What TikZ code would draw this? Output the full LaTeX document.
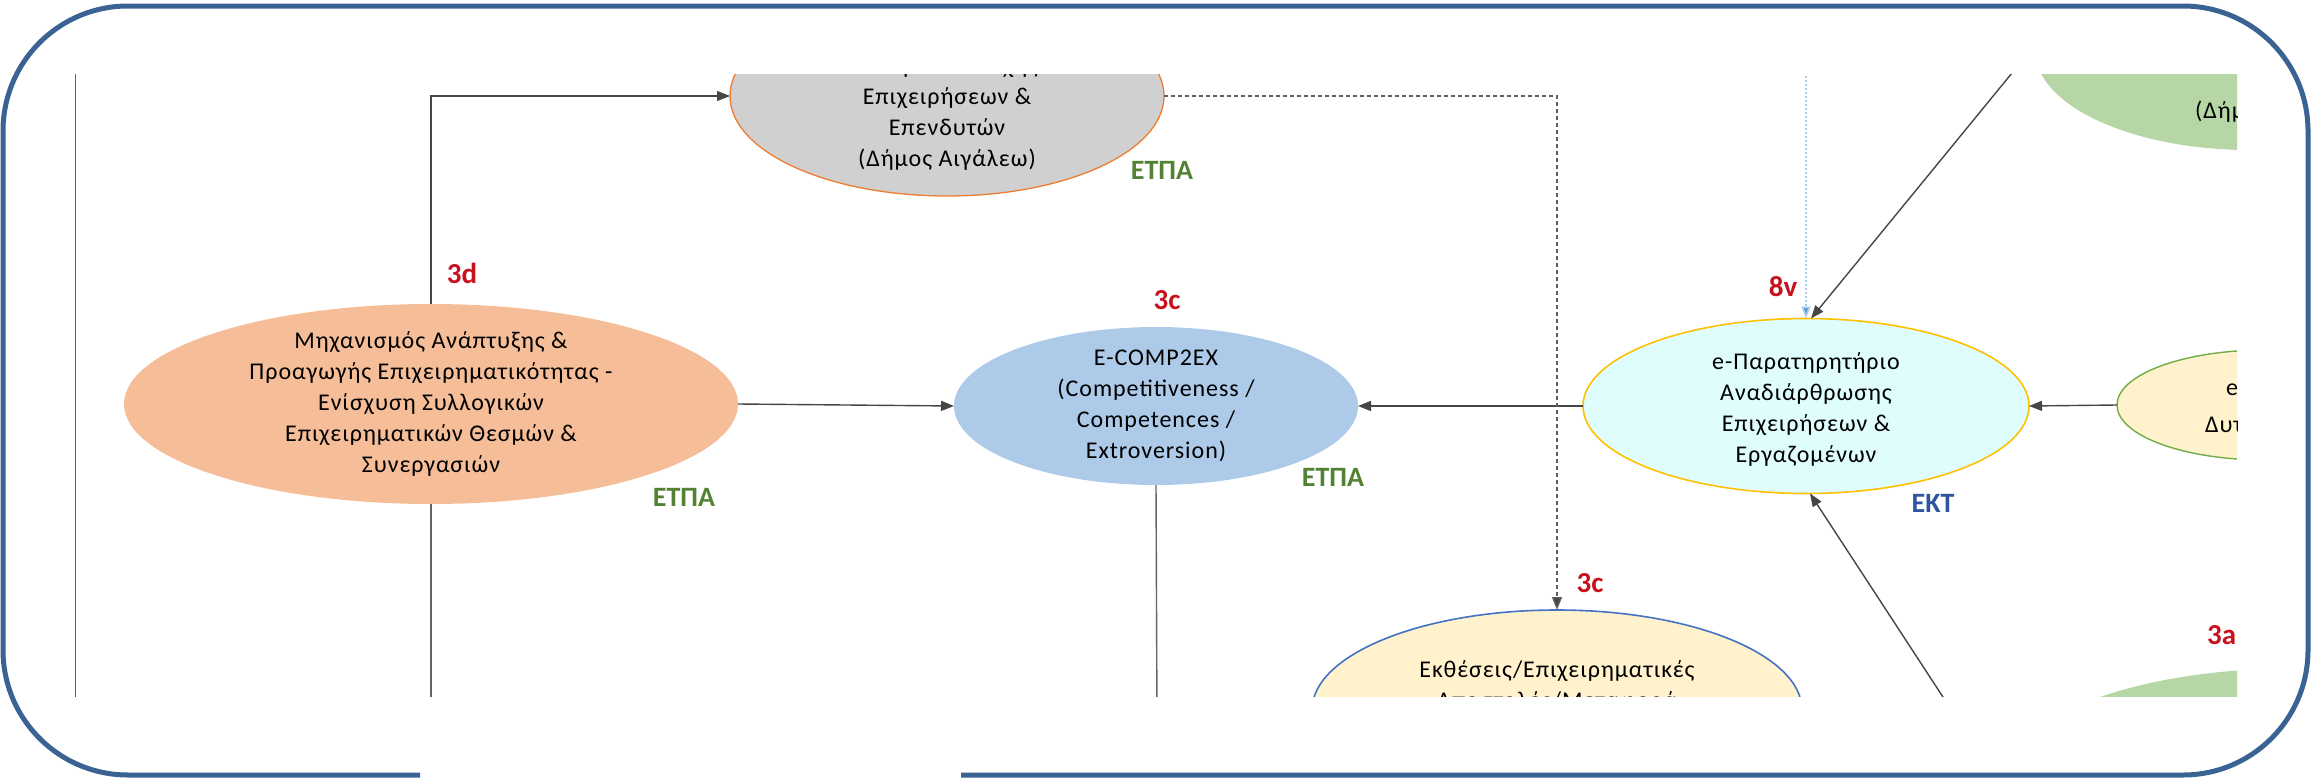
\documentclass[tikz,border=0pt]{standalone}
\usepackage{fontspec}
\setmainfont{Carlito}
\newfontfamily\spacedfont[LetterSpace=4]{Carlito}
\usetikzlibrary{shapes.geometric,arrows.meta}
\definecolor{frameblue}{RGB}{58,99,148}
\definecolor{conngray}{RGB}{70,70,70}
\definecolor{linegray}{RGB}{100,100,100}
\definecolor{labred}{RGB}{200,16,30}
\definecolor{labgreen}{RGB}{84,130,53}
\definecolor{labblue}{RGB}{47,85,160}
\definecolor{fillorange}{RGB}{245,190,152}
\definecolor{fillgray}{RGB}{208,208,208}
\definecolor{borderorange}{RGB}{237,125,49}
\definecolor{fillblue}{RGB}{173,203,233}
\definecolor{fillcyan}{RGB}{223,253,253}
\definecolor{bordergold}{RGB}{255,192,0}
\definecolor{fillyellow}{RGB}{255,242,204}
\definecolor{borderblue}{RGB}{68,114,196}
\definecolor{bordergreen}{RGB}{112,173,71}
\definecolor{fillgreen}{RGB}{183,214,166}
\definecolor{dotblue}{RGB}{170,205,238}
\definecolor{tipblue}{RGB}{91,155,213}
\definecolor{dashgray}{RGB}{95,95,95}
\begin{document}
\begin{tikzpicture}[x=1pt,y=-1pt,
  ell/.style={ellipse, inner sep=0pt, outer sep=0pt},
  txt/.style={align=center, font=\spacedfont\fontsize{24}{31}\selectfont, inner sep=0pt, text=black},
  con/.style={draw=conngray, line width=1.4pt},
  arr/.style={con, -{Triangle[length=13pt,width=10pt]}},
  redlab/.style={text=labred, font=\fontsize{29}{32}\selectfont\bfseries, inner sep=0pt},
  greenlab/.style={text=labgreen, font=\fontsize{28}{32}\selectfont\bfseries, inner sep=0pt},
  bluelab/.style={text=labblue, font=\fontsize{28}{32}\selectfont\bfseries, inner sep=0pt},
  framestyle/.style={draw=frameblue, line width=5pt, rounded corners=125pt}]
\useasboundingbox (0,0) rectangle (2313,779);

% outer frame with a gap at the bottom
\draw[framestyle] (420,775) -- (3,775) -- (3,6) -- (2308,6) -- (2308,775) -- (961,775);

\begin{scope}
\clip (75,74) rectangle (2237,696);

% ellipses
\node[ell, fill=fillorange, minimum width=614pt, minimum height=200pt] (mech) at (431,404) {};
\node[ell, fill=fillgray, draw=borderorange, line width=1.3pt, minimum width=434pt, minimum height=200pt] (gray) at (947,96) {};
\node[ell, fill=fillblue, minimum width=404pt, minimum height=158pt] (comp) at (1156,406) {};
\node[ell, fill=fillcyan, draw=bordergold, line width=1.6pt, minimum width=446pt, minimum height=175pt] (obs) at (1806,406) {};
\node[ell, fill=fillyellow, draw=borderblue, line width=1.6pt, minimum width=490pt, minimum height=200pt] (expo) at (1557,710) {};
\node[ell, fill=fillyellow, draw=bordergreen, line width=1.4pt, minimum width=296pt, minimum height=110pt] (re) at (2265,405) {};
\node[ell, fill=fillgreen, minimum width=430pt, minimum height=200pt] (tr) at (2250,50) {};
\node[ell, fill=fillgreen, minimum width=568pt, minimum height=200pt] (brg) at (2300,768) {};

% texts
\node[txt] (mechT) at (mech.center) {Μηχανισμός Ανάπτυξης \&\\Προαγωγής Επιχειρηματικότητας -\\Ενίσχυση Συλλογικών\\Επιχειρηματικών Θεσμών \&\\Συνεργασιών};
\node[txt] (grayT) at (947,113) {Κέντρο Υποδοχής\\Επιχειρήσεων \&\\Επενδυτών\\(Δήμος Αιγάλεω)};
\node[txt] (compT) at (comp.center) {E-COMP2EX\\(Competitiveness /\\Competences /\\Extroversion)};
\node[txt] (obsT) at (1806,409) {e-Παρατηρητήριο\\Αναδιάρθρωσης\\Επιχειρήσεων \&\\Εργαζομένων};
\node[txt] (expoT) at (1557,686) {Εκθέσεις/Επιχειρηματικές\\Αποστολές/Μεταφορά};
\node[txt, anchor=west] (reT1) at (2226,390) {e};
\node[txt, anchor=west] (reT2) at (2205,425) {Δυτ};
\node[txt, anchor=west] (trT) at (2195,112) {(Δήμος};

% labels
\node[redlab] (l3d) at (462,273) {3d};
\node[redlab] (l3c) at (1167,300) {3c};
\node[redlab] (l8v) at (1783,287) {8v};
\node[redlab] (l3c2) at (1590,583) {3c};
\node[redlab, anchor=west] (l3a) at (2207,635) {3a};
\node[greenlab] (g1) at (684,497) {ΕΤΠΑ};
\node[greenlab] (g2) at (1162,170) {ΕΤΠΑ};
\node[greenlab] (g3) at (1333,477) {ΕΤΠΑ};
\node[bluelab] (b1) at (1933,503) {ΕΚΤ};

% free ends
\coordinate (leftTop) at (75,60);
\coordinate (leftBot) at (75,720);
\coordinate (mechBot) at (431,720);
\coordinate (compBot) at (1157,720);
\coordinate (diagTop) at (2039,40);
\coordinate (dotTop) at (1806,40);
\coordinate (diagBot) at (1958,720);

% connectors
\draw[draw=linegray, line width=1.8pt] (leftTop) -- (leftBot);
\draw[arr] (mech.north) |- (gray.west);
\draw[con, draw=linegray] (mech.south) -- (mechBot);
\draw[arr] (mech.east) -- (comp.west);
\draw[con, draw=linegray] (comp.south) -- (compBot);
\draw[arr] (obs.west) -- (comp.east);
\draw[arr] (re.west) -- (obs.east);
\draw[con, draw=dashgray, line width=1.3pt, dash pattern=on 4pt off 3pt, -{Triangle[length=13pt,width=10pt,fill=conngray]}] (gray.east) -| (expo.north);
\draw[draw=dotblue, line width=1.6pt, dash pattern=on 2pt off 2pt, -{Triangle[length=12pt,width=9pt,fill=tipblue]}] (dotTop) -- (obs.north);
\draw[arr] (diagTop) -- ([xshift=5pt]obs.north);
\draw[arr] (diagBot) -- ([xshift=4pt]obs.south);
\end{scope}
\end{tikzpicture}
\end{document}
